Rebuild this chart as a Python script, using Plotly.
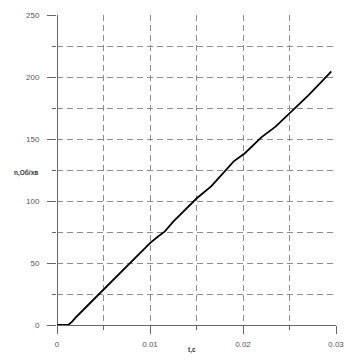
import plotly.graph_objects as go

t_vals = [0, 0.0005, 0.0012, 0.0016, 0.002, 0.003, 0.004, 0.005, 0.006, 0.007,
          0.0078, 0.009, 0.010, 0.0108, 0.0116, 0.0125, 0.0135, 0.015, 0.0166,
          0.018, 0.019, 0.0202, 0.021, 0.022, 0.0235, 0.0245, 0.0256, 0.027,
          0.0283, 0.0295]
n_vals = [0, 0, 0, 2.5, 6, 13.5, 21, 28, 35.5, 43,
          49.5, 58.5, 66, 71, 75.5, 83.3, 91, 102, 112,
          124, 132, 138.5, 144, 151.5, 160, 167, 175, 185,
          195, 204.5]

x_ticks = [0, 0.01, 0.02, 0.03]
x_tick_text = ["0", "0.01", "0.02", "0.03"]
y_ticks = [0, 50, 100, 150, 200, 250]

fig = go.Figure()
fig.add_trace(go.Scatter(x=t_vals, y=n_vals, mode="lines",
                         line=dict(color="black", width=1.8), showlegend=False,
                         cliponaxis=False))

grid = dict(showgrid=True, gridcolor="#8c8c8c", gridwidth=1, griddash="6px,4px")
fig.update_layout(
    width=345, height=362,
    margin=dict(l=57, r=9, t=15, b=37, autoexpand=False),
    paper_bgcolor="white", plot_bgcolor="white",
    font=dict(family="Arial, Liberation Sans, sans-serif", size=8, color="#555555"),
    xaxis=dict(range=[0, 0.03], tickvals=x_ticks, ticktext=x_tick_text, automargin=False,
               ticks="outside", ticklen=8, tickcolor="#666666",
               showline=False, zeroline=True, zerolinecolor="#666666", zerolinewidth=1,
               minor=dict(dtick=0.005, showgrid=True, gridcolor="#8c8c8c",
                          griddash="6px,4px", ticks="outside", ticklen=4, tickcolor="#666666"),
               **grid),
    yaxis=dict(range=[0, 250], tickvals=y_ticks, automargin=False,
               ticks="outside", ticklen=9, tickcolor="#666666",
               showline=False, zeroline=True, zerolinecolor="#666666", zerolinewidth=1,
               minor=dict(dtick=25, showgrid=True, gridcolor="#8c8c8c",
                          griddash="6px,4px", ticks="outside", ticklen=4, tickcolor="#666666"),
               **grid),
)
fig.update_xaxes(ticklabelstandoff=3)
fig.update_yaxes(ticklabelstandoff=6)

fig.add_annotation(text="<b>n,Об/хв</b>", xref="paper", yref="paper",
                   x=-0.111, y=0.49, xanchor="center", yanchor="middle",
                   showarrow=False, font=dict(size=6.5, color="#333333"))
fig.add_annotation(text="<b>t,c</b>", xref="paper", yref="paper",
                   x=0.483, y=-0.081, xanchor="center", yanchor="middle",
                   showarrow=False, font=dict(size=6.5, color="#333333"))

# remove the default 8px page margin so the figure sits at the window's corner
fig.write_html("out.html", config={"displayModeBar": False},
               post_script="document.body.style.margin='0';")
